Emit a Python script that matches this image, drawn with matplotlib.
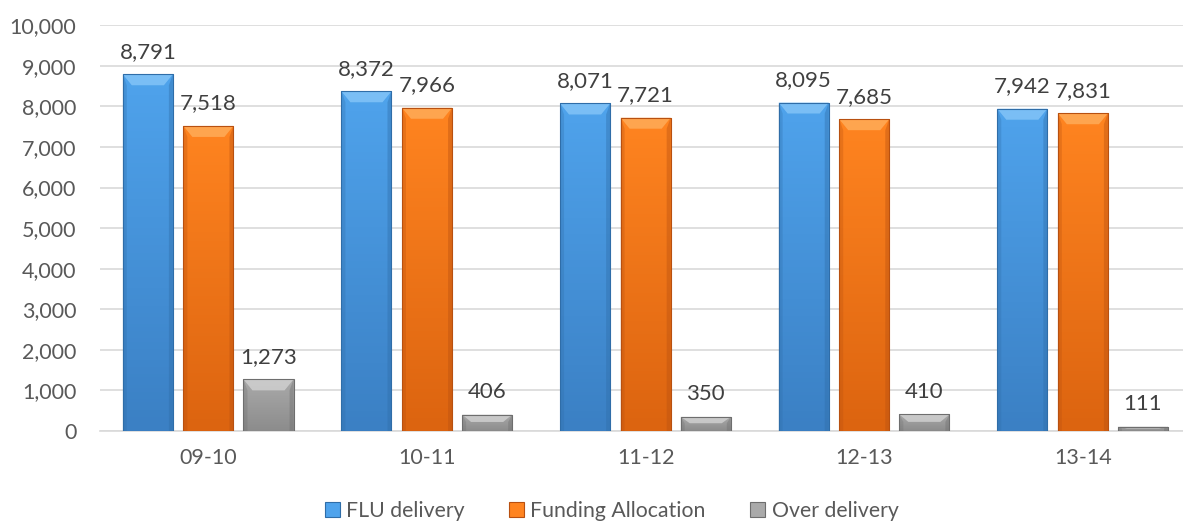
import numpy as np
import matplotlib
matplotlib.use("Agg")
import matplotlib.pyplot as plt
from matplotlib.patches import Polygon, Patch
from matplotlib.colors import LinearSegmentedColormap
from matplotlib.ticker import FuncFormatter

plt.rcParams['font.family'] = ['Lato', 'DejaVu Sans']

years      = ["09-10", "10-11", "11-12", "12-13", "13-14"]
flu        = [8791, 8372, 8071, 8095, 7942]
funding    = [7518, 7966, 7721, 7685, 7831]
over       = [1273, 406, 350, 410, 111]
series_lbl = ["FLU delivery", "Funding Allocation", "Over delivery"]

# (top, bottom, edge, bevel)
styles = [
    ("#4FA3EC", "#3B80C4", "#2F6DA8", "#86C6F8"),
    ("#FF8420", "#DC6410", "#B85010", "#FFAE5C"),
    ("#AAAAAA", "#8C8C8C", "#6E6E6E", "#D2D2D2"),
]

fig = plt.figure(figsize=(11.83, 5.25), dpi=100)
ax = fig.add_axes([0.0845, 0.179, 0.9155, 0.773])

x = np.arange(len(years))
width = 0.229
offs = [-0.277, 0.0, 0.275]
px_x = 218.6          # pixels per x unit
px_y = 406 / 10000    # pixels per y unit

for k, vals in enumerate([flu, funding, over]):
    top_c, bot_c, edge_c, bev_c = styles[k]
    cmap = LinearSegmentedColormap.from_list("g%d" % k, [bot_c, top_c])
    bars = ax.bar(x + offs[k], vals, width, color=top_c, edgecolor=edge_c,
                  linewidth=0.8, zorder=3)
    for b, v in zip(bars, vals):
        x0, w, h = b.get_x(), b.get_width(), b.get_height()
        grad = np.linspace(0, 1, 100).reshape(-1, 1)
        im = ax.imshow(grad, cmap=cmap, origin="lower", aspect="auto",
                       extent=[x0, x0 + w, 0, h], zorder=3.5)
        im.set_clip_path(b)
        bx = 9 / px_x
        by = min(11 / px_y, h * 0.45)
        ax.add_patch(Polygon([(x0, h), (x0 + w, h), (x0 + w - bx, h - by), (x0 + bx, h - by)],
                             closed=True, facecolor=bev_c, edgecolor="none", alpha=0.8, zorder=4))
        sx = 4 / px_x
        ax.add_patch(Polygon([(x0, 0), (x0 + sx, 0), (x0 + sx, h - by), (x0, h)],
                             closed=True, facecolor=edge_c, edgecolor="none", alpha=0.3, zorder=4))
        ax.add_patch(Polygon([(x0 + w, 0), (x0 + w - sx, 0), (x0 + w - sx, h - by), (x0 + w, h)],
                             closed=True, facecolor=edge_c, edgecolor="none", alpha=0.4, zorder=4))
        b.set_facecolor("none")
        b.set_zorder(5)
        ax.annotate(f"{v:,}", (b.get_x() + w / 2, h), xytext=(0, 9),
                    textcoords="offset points", ha="center", va="bottom",
                    fontsize=16, color="#404040", zorder=6)

ax.set_xlim(-0.496, 4.458)
ax.set_ylim(0, 10000)
ax.set_yticks(np.arange(0, 10001, 1000))
ax.yaxis.set_major_formatter(FuncFormatter(lambda v, p: f"{int(v):,}"))
ax.set_xticks(x)
ax.set_xticklabels(years)
ax.tick_params(axis="both", length=0, labelsize=15.5, labelcolor="#595959")
ax.tick_params(axis="x", pad=12)
ax.tick_params(axis="y", pad=17)
ax.grid(axis="y", color="#D9D9D9", linewidth=1.2, zorder=0)
ax.set_axisbelow(True)
for s in ["top", "right", "left"]:
    ax.spines[s].set_visible(False)
ax.spines["bottom"].set_color("#D9D9D9")
ax.spines["bottom"].set_linewidth(1.2)

handles = [Patch(facecolor=s[0], edgecolor=s[2], linewidth=0.8) for s in styles]
fig.legend(handles, series_lbl, loc="center", bbox_to_anchor=(0.517, 0.027), ncol=3,
           frameon=False, fontsize=15.3, handlelength=0.7, handleheight=0.7,
           handletextpad=0.3, columnspacing=2.1, labelcolor="#595959")

fig.savefig("out.png", dpi=100)
